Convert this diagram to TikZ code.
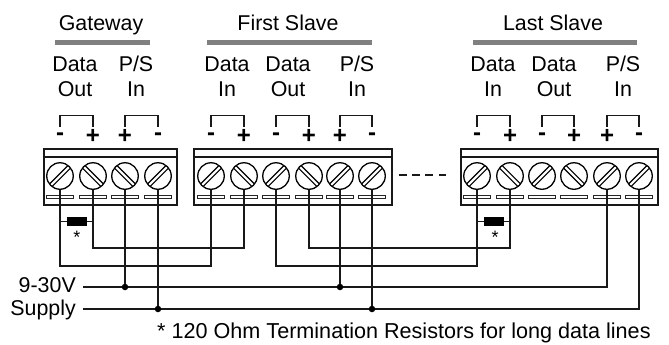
\documentclass[tikz,border=0pt]{standalone}
\usepackage{fontspec}
\setmainfont{Liberation Sans}
\usetikzlibrary{calc}
\newcommand{\slotline}[4]{\draw[line width=1.2bp] ([shift={(#1bp,#2bp)}]path picture bounding box.center) -- ([shift={(#3bp,#4bp)}]path picture bounding box.center);}
\tikzset{
  x=1bp,y=-1bp,
  wire/.style={line width=1.35bp,draw=black!90},
  lbl/.style={anchor=base,inner sep=0pt,font=\fontsize{21.4bp}{24bp}\selectfont,text=black},
  bar/.style={fill=black!50,draw=none,minimum height=5bp,inner sep=0pt},
  block/.style={draw=black!90,line width=1.35bp,fill=white,minimum height=56bp,inner sep=0pt},
  screw/.style={circle,draw=black,line width=1.3bp,minimum size=26.5bp,inner sep=0pt,fill=white},
  screwf/.style={screw,path picture={
     \slotline{-12.7}{-15.3}{15.3}{12.7}\slotline{-15.3}{-12.7}{12.7}{15.3}}},
  screwb/.style={screw,path picture={
     \slotline{-15.3}{12.7}{12.7}{-15.3}\slotline{-12.7}{15.3}{15.3}{-12.7}}},
  slotbar/.style={draw=black!85,line width=1.2bp,fill=white,minimum width=27bp,minimum height=3.2bp,inner sep=0pt},
  sign/.style={inner sep=0pt,font=\fontsize{24bp}{24bp}\selectfont\bfseries,text=black},
  res/.style={fill=black,draw=none,minimum width=20bp,minimum height=9bp,inner sep=0pt},
  dot/.style={circle,fill=black,draw=none,minimum size=6.5bp,inner sep=0pt},
  bracket/.style={line width=1.2bp,draw=black!90},
}
\newcommand{\brk}[2]{\draw[bracket] ([yshift=10bp]#1.center) -- ++(0,-11) -| ([yshift=10bp]#2.center);}
\newcommand{\term}[4]{% name, x, slot style, sign
  \node[slotbar] (#1b) at (#2,197) {};
  \node[#3] (#1) at (#2,176) {};
  \node[sign] (#1s) at (#2,136.5) {#4};
}
\begin{document}
\begin{tikzpicture}
\useasboundingbox (0,0) rectangle (669,344);
% titles
\node[lbl] (tg) at (101,30) {Gateway};
\node[lbl] (tf) at (288,30) {First Slave};
\node[lbl] (tl) at (553,30) {Last Slave};
\node[bar,minimum width=95bp] (bg) at (102.5,42) {};
\node[bar,minimum width=165bp] (bf) at (289.5,42) {};
\node[bar,minimum width=164bp] (bl) at (555,42) {};
% port labels
\node[lbl] (a1) at (75,71) {Data}; \node[lbl] (a2) at (75,96) {Out};
\node[lbl] (a3) at (136,71) {P/S}; \node[lbl] (a4) at (136,96) {In};
\node[lbl] (b1) at (227,71) {Data}; \node[lbl] (b2) at (227,96) {In};
\node[lbl] (b3) at (288,71) {Data}; \node[lbl] (b4) at (288,96) {Out};
\node[lbl] (b5) at (357,71) {P/S}; \node[lbl] (b6) at (357,96) {In};
\node[lbl] (c1) at (493,71) {Data}; \node[lbl] (c2) at (493,96) {In};
\node[lbl] (c3) at (554,71) {Data}; \node[lbl] (c4) at (554,96) {Out};
\node[lbl] (c5) at (623,71) {P/S}; \node[lbl] (c6) at (623,96) {In};
% blocks
\node[block,minimum width=133bp] (G) at (110.5,177) {};
\node[block,minimum width=198bp] (F) at (293,177) {};
\node[block,minimum width=197bp] (L) at (559.5,177) {};
\foreach \B in {G,F,L} \draw[wire] (\B.west |- 0,157) -- (\B.east |- 0,157);
% terminals
\term{g1}{60}{screwf}{-}\term{g2}{93}{screwb}{+}\term{g3}{125}{screwb}{+}\term{g4}{158}{screwf}{-}
\term{f1}{211}{screwf}{-}\term{f2}{244}{screwb}{+}\term{f3}{276}{screwf}{-}\term{f4}{309}{screwb}{+}\term{f5}{340}{screwf}{+}\term{f6}{372}{screwf}{-}
\term{l1}{477}{screwf}{-}\term{l2}{510}{screwb}{+}\term{l3}{542}{screwf}{-}\term{l4}{574}{screwb}{+}\term{l5}{607}{screwf}{+}\term{l6}{639}{screwf}{-}
% brackets
\brk{g1s}{g2s}\brk{g3s}{g4s}
\brk{f1s}{f2s}\brk{f3s}{f4s}\brk{f5s}{f6s}
\brk{l1s}{l2s}\brk{l3s}{l4s}\brk{l5s}{l6s}
% dashes between blocks
\draw[wire,dash pattern=on 8bp off 5.3bp] (F.east |- 0,175) ++(6,0) -- ($(L.west |- 0,175)+(-14,0)$);
% data wires
\draw[wire] (g1.south) -- ++(0,76) -| (f1.south);
\draw[wire] (g2.south) -- ++(0,58) -| (f2.south);
\draw[wire] (f3.south) -- ++(0,76) -| (l1.south);
\draw[wire] (f4.south) -- ++(0,58) -| (l2.south);
% resistors
\node[res] (r1) at (77,221.5) {};
\node[res] (r2) at (494,221.5) {};
\draw[wire] (g1.south |- r1) -- (r1) -- (g2.south |- r1);
\draw[wire] (l1.south |- r2) -- (r2) -- (l2.south |- r2);
\node[inner sep=0pt,font=\fontsize{18bp}{18bp}\selectfont] (s1) at (77,237) {*};
\node[inner sep=0pt,font=\fontsize{18bp}{18bp}\selectfont] (s2) at (495,237) {*};
% supply
\node[lbl,anchor=base east] (v) at (76,292) {9-30V};
\node[lbl,anchor=base east] (sp) at (76,315) {Supply};
\coordinate (va) at (83,287);
\coordinate (sa) at (83,309);
\draw[wire] (va) -| (l5.south);
\draw[wire] (sa) -| (l6.south);
\node[dot] (j1) at (g3.south |- va) {};
\node[dot] (j2) at (g4.south |- sa) {};
\node[dot] (j3) at (f5.south |- va) {};
\node[dot] (j4) at (f6.south |- sa) {};
\draw[wire] (g3.south) -- (j1);
\draw[wire] (g4.south) -- (j2);
\draw[wire] (f5.south) -- (j3);
\draw[wire] (f6.south) -- (j4);
% note
\node[lbl,anchor=base west,font=\fontsize{21.6bp}{24bp}\selectfont] (note) at (157,338) {* 120 Ohm Termination Resistors for long data lines};
\end{tikzpicture}
\end{document}
